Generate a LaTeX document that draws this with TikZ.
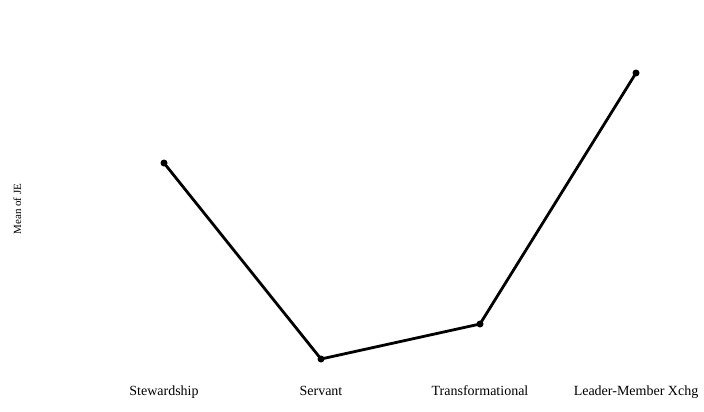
\documentclass[tikz,border=0pt]{standalone}
\usepackage{fontspec}
\setmainfont{Liberation Serif}
\tikzset{
  every picture/.style={line join=round, line cap=round},
  meanline/.style={line width=2.8pt},
  meandot/.style={circle, fill=black, inner sep=0pt, minimum size=7pt},
  grouplabel/.style={anchor=base, font=\fontsize{14}{16}\selectfont},
}

\begin{document}
\begin{tikzpicture}[x=1pt,y=-1pt]
\useasboundingbox (0,0) rectangle (704,412);
% axis title
\node[rotate=90,anchor=base,font=\fontsize{11}{13}\selectfont] (ylab) at (21,209) {Mean of JE};
% group means
\node[meandot] (stew) at (164,163) {};
\node[meandot] (serv) at (321,359) {};
\node[meandot] (trans) at (480,324) {};
\node[meandot] (lmx) at (636,73) {};
\draw[meanline] (stew.center)--(serv.center)--(trans.center)--(lmx.center);
% group labels
\node[grouplabel] (stewlab) at (164,395) {Stewardship};
\node[grouplabel] (servlab) at (321,395) {Servant};
\node[grouplabel] (translab) at (480,395) {Transformational};
\node[grouplabel] (lmxlab) at (636,395) {Leader-Member Xchg};
\end{tikzpicture}
\end{document}
